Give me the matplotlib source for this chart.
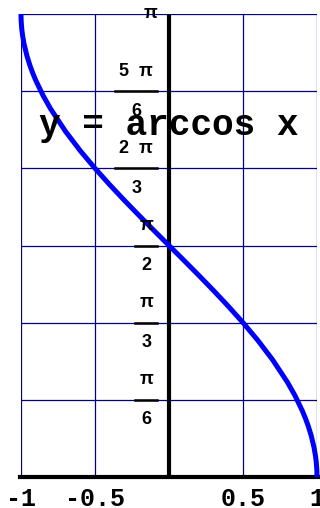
import numpy as np
from matplotlib import pyplot as plt

# sample points of the curve
xs = [-1.0, -0.999, -0.995, -0.99, -0.98, -0.96, -0.94, -0.92, -0.9, -0.85,
      -0.8, -0.7, -0.6, -0.5, -0.4, -0.3, -0.2, -0.1, 0.0,
      0.1, 0.2, 0.3, 0.4, 0.5, 0.6, 0.7, 0.8, 0.85,
      0.9, 0.92, 0.94, 0.96, 0.98, 0.99, 0.995, 0.999, 1.0]
ys = [3.14159, 3.09687, 3.04142, 3.00005, 2.94125, 2.85780, 2.79343, 2.73888,
      2.69056, 2.58678, 2.49809, 2.34619, 2.21430, 2.09440, 1.98231, 1.87549,
      1.77215, 1.67096, 1.57080,
      1.47063, 1.36944, 1.26610, 1.15928, 1.04720, 0.92730, 0.79540, 0.64350,
      0.55481, 0.45103, 0.40271, 0.34816, 0.28379, 0.20034, 0.14154, 0.10017,
      0.04472, 0.0]

x_ticks = [-1, -0.5, 0, 0.5, 1]
x_labels = ["-1", "-0.5", "", "0.5", "1"]
y_ticks = [np.pi / 6, np.pi / 3, np.pi / 2, 2 * np.pi / 3, 5 * np.pi / 6, np.pi]
y_num = ["π", "π", "π", "2  π", "5  π", "π"]
y_den = ["6", "3", "2", "3", "6", ""]

fig = plt.figure(figsize=(3.2, 5.08), dpi=100)
ax = fig.add_axes([21 / 320, 31 / 508, 296 / 320, 463 / 508])
ax.set_xlim(-1, 1)
ax.set_ylim(0, np.pi)
for s in ax.spines.values():
    s.set_visible(False)

ax.set_xticks(x_ticks)
ax.set_xticklabels(x_labels, family="Liberation Mono", weight="bold", fontsize=18)
ax.set_yticks([0] + y_ticks)
ax.set_yticklabels([])
ax.tick_params(length=0, pad=7)
ax.grid(True, color="#000080", linewidth=0.9)

ax.axhline(0, color="black", linewidth=3, clip_on=False, xmin=-0.005, xmax=1.01)
ax.axvline(0, color="black", linewidth=3, ymax=1.0)
ax.plot(xs, ys, color="#0000ff", linewidth=3.6, solid_capstyle="butt", clip_on=False, zorder=5)

# fraction labels on the y axis
fig.canvas.draw()
r = fig.canvas.get_renderer()
to_disp = ax.transData
right = to_disp.transform((0, 0))[0] - 12
inv = fig.transFigure.inverted()
font = dict(family="Liberation Sans", weight="bold", fontsize=13, color="black")
for yv, num, den in zip(y_ticks, y_num, y_den):
    ty = to_disp.transform((0, yv))[1]
    if not den:
        fx, fy = inv.transform((right, ty + 1))
        fig.text(fx, fy, num, ha="right", va="center", **font)
        continue
    t = fig.text(0, 0, num, ha="center", va="center", **font)
    w = t.get_window_extent(r).width
    bw = w + 8
    cx = right - bw / 2
    t.set_position(inv.transform((cx, ty + 20)))
    fx, fy = inv.transform((cx, ty - 20))
    fig.text(fx, fy, den, ha="center", va="center", **font)
    (x0, y0), (x1, _) = inv.transform((right - bw, ty)), inv.transform((right, ty))
    fig.add_artist(plt.Line2D([x0, x1], [y0, y0], color="black", linewidth=1.8,
                              transform=fig.transFigure))

ax.text(0, 2.32, "y = arccos x", ha="center", va="baseline",
        family="Liberation Mono", weight="bold", fontsize=26, zorder=6)

fig.savefig("out.png")
plt.close("all")
